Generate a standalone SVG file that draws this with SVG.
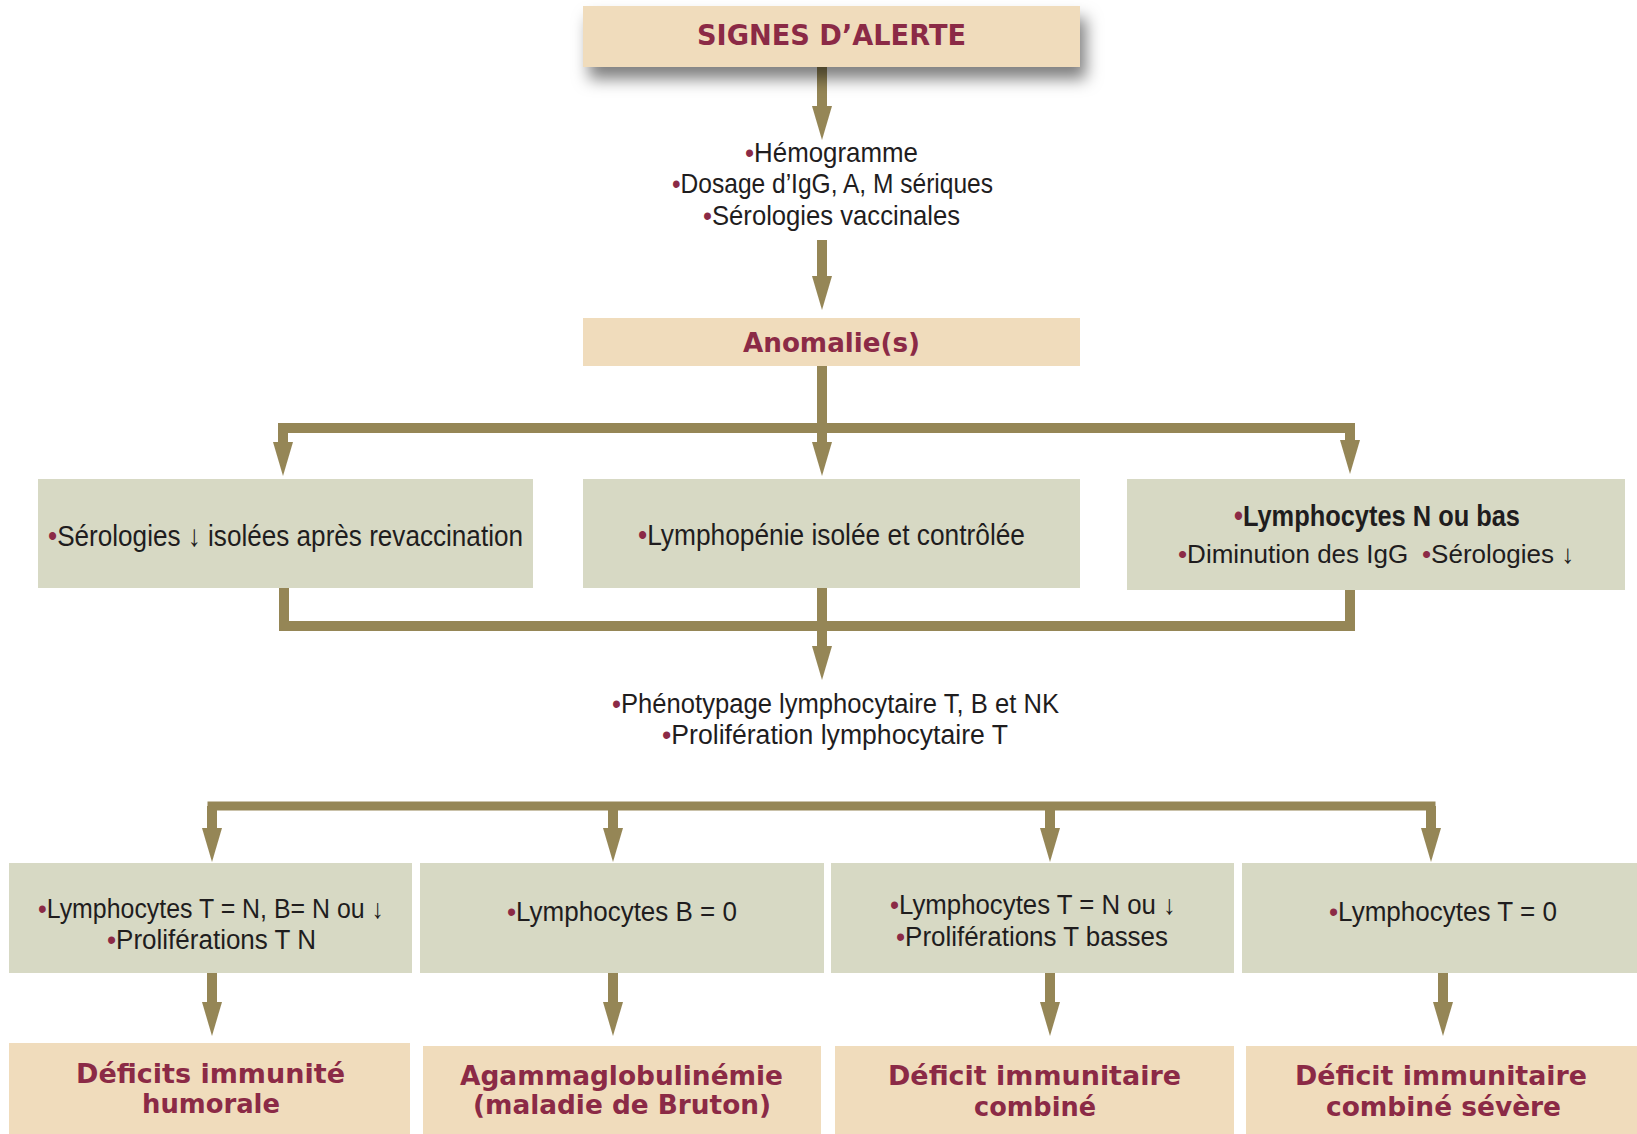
<svg xmlns="http://www.w3.org/2000/svg" width="1637" height="1134" viewBox="0 0 1637 1134">
<defs>
<style>
.beige{fill:#f0dcbc}
.green{fill:#d7d9c4}
.t{font-family:"Liberation Sans Narrow","Liberation Sans",Arial,sans-serif;fill:#1f1d1e}
.tb{font-family:"Liberation Sans Narrow","Liberation Sans",Arial,sans-serif;fill:#1f1d1e;font-weight:bold}
.h{font-family:"DejaVu Sans","Liberation Sans",sans-serif;font-weight:bold;fill:#8b2a46}
.b{fill:#8b2a46}
.c{fill:none;stroke:#958656;stroke-width:10}
.ca{fill:none;stroke:#958656;stroke-width:10;marker-end:url(#ah)}
.bar{fill:none;stroke:#958656;stroke-width:10;stroke-linecap:square;stroke-linejoin:miter}
</style>
<marker id="ah" markerUnits="userSpaceOnUse" viewBox="0 0 34 20" markerWidth="34" markerHeight="20" refX="2" refY="10" orient="auto">
<path d="M0,0 L34,10 L0,20 z" fill="#958656"/>
</marker>
<filter id="sh" x="-10%" y="-30%" width="125%" height="200%">
<feDropShadow dx="6" dy="12" stdDeviation="8" flood-color="#000" flood-opacity="0.5"/>
</filter>
</defs>

<g id="connectors">
<path class="ca" d="M822,67 V108"/>
<path class="ca" d="M822,240 V278"/>
<path class="c" d="M822,366 V430"/>
<path class="bar" d="M283,428 H1350"/>
<path class="ca" d="M822,428 V444"/>
<path class="ca" d="M283,428 V444"/>
<path class="ca" d="M1350,428 V442"/>
<path class="bar" d="M284,588 V626 H1350 V591"/>
<path class="ca" d="M822,587 V648"/>
<path class="bar" style="stroke-width:9" d="M212,806 H1431"/>
<path class="ca" d="M212,806 V830"/>
<path class="ca" d="M613,806 V830"/>
<path class="ca" d="M1050,806 V830"/>
<path class="ca" d="M1431,806 V830"/>
<path class="ca" d="M212,973 V1004"/>
<path class="ca" d="M613,973 V1004"/>
<path class="ca" d="M1050,973 V1004"/>
<path class="ca" d="M1443,973 V1004"/>
</g>

<g id="signes">
<rect class="beige" x="583" y="6" width="497" height="61" filter="url(#sh)"/>
<text class="h" x="697" y="45" font-size="29" textLength="269" lengthAdjust="spacingAndGlyphs">SIGNES D’ALERTE</text>
</g>

<g id="examens">
<text class="t" x="745" y="162" font-size="28" textLength="173" lengthAdjust="spacingAndGlyphs"><tspan class="b">•</tspan>Hémogramme</text>
<text class="t" x="672" y="193" font-size="28" textLength="321" lengthAdjust="spacingAndGlyphs"><tspan class="b">•</tspan>Dosage d’IgG, A, M sériques</text>
<text class="t" x="703" y="225" font-size="28" textLength="257" lengthAdjust="spacingAndGlyphs"><tspan class="b">•</tspan>Sérologies vaccinales</text>
</g>

<g id="anomalies">
<rect class="beige" x="583" y="318" width="497" height="48"/>
<text class="h" x="743" y="352" font-size="26" textLength="177" lengthAdjust="spacingAndGlyphs">Anomalie(s)</text>
</g>

<g id="serologies">
<rect class="green" x="38" y="479" width="495" height="109"/>
<text class="t" x="48" y="546" font-size="30" textLength="475" lengthAdjust="spacingAndGlyphs"><tspan class="b">•</tspan>Sérologies ↓ isolées après revaccination</text>
</g>

<g id="lymphopenie">
<rect class="green" x="583" y="479" width="497" height="109"/>
<text class="t" x="638" y="545" font-size="30" textLength="387" lengthAdjust="spacingAndGlyphs"><tspan class="b">•</tspan>Lymphopénie isolée et contrôlée</text>
</g>

<g id="lymphocytes-bas">
<rect class="green" x="1127" y="479" width="498" height="111"/>
<text class="tb" x="1234" y="526" font-size="29" textLength="286" lengthAdjust="spacingAndGlyphs"><tspan class="b">•</tspan>Lymphocytes N ou bas</text>
<text class="t" x="1178" y="563" font-size="26"><tspan class="b">•</tspan>Diminution des IgG</text>
<text class="t" x="1422" y="563" font-size="26"><tspan class="b">•</tspan>Sérologies ↓</text>
</g>

<g id="phenotypage">
<text class="t" x="612" y="713" font-size="27" textLength="447" lengthAdjust="spacingAndGlyphs"><tspan class="b">•</tspan>Phénotypage lymphocytaire T, B et NK</text>
<text class="t" x="662" y="744" font-size="27" textLength="346" lengthAdjust="spacingAndGlyphs"><tspan class="b">•</tspan>Prolifération lymphocytaire T</text>
</g>

<g id="box-tn">
<rect class="green" x="9" y="863" width="403" height="110"/>
<text class="t" x="38" y="918" font-size="27" textLength="346" lengthAdjust="spacingAndGlyphs"><tspan class="b">•</tspan>Lymphocytes T = N, B= N ou ↓</text>
<text class="t" x="107" y="949" font-size="27" textLength="209" lengthAdjust="spacingAndGlyphs"><tspan class="b">•</tspan>Proliférations T N</text>
</g>

<g id="box-b0">
<rect class="green" x="420" y="863" width="404" height="110"/>
<text class="t" x="507" y="921" font-size="27" textLength="230" lengthAdjust="spacingAndGlyphs"><tspan class="b">•</tspan>Lymphocytes B = 0</text>
</g>

<g id="box-tbas">
<rect class="green" x="831" y="863" width="403" height="110"/>
<text class="t" x="890" y="914" font-size="27" textLength="286" lengthAdjust="spacingAndGlyphs"><tspan class="b">•</tspan>Lymphocytes T = N ou ↓</text>
<text class="t" x="896" y="946" font-size="27" textLength="272" lengthAdjust="spacingAndGlyphs"><tspan class="b">•</tspan>Proliférations T basses</text>
</g>

<g id="box-t0">
<rect class="green" x="1242" y="863" width="395" height="110"/>
<text class="t" x="1329" y="921" font-size="27" textLength="228" lengthAdjust="spacingAndGlyphs"><tspan class="b">•</tspan>Lymphocytes T = 0</text>
</g>

<g id="res-humorale">
<rect class="beige" x="9" y="1043" width="401" height="91"/>
<text class="h" x="76" y="1083" font-size="26" textLength="269" lengthAdjust="spacingAndGlyphs">Déficits immunité</text>
<text class="h" x="142" y="1113" font-size="26" textLength="138" lengthAdjust="spacingAndGlyphs">humorale</text>
</g>

<g id="res-bruton">
<rect class="beige" x="423" y="1046" width="398" height="88"/>
<text class="h" x="460" y="1085" font-size="26" textLength="323" lengthAdjust="spacingAndGlyphs">Agammaglobulinémie</text>
<text class="h" x="473" y="1114" font-size="26" textLength="298" lengthAdjust="spacingAndGlyphs">(maladie de Bruton)</text>
</g>

<g id="res-combine">
<rect class="beige" x="835" y="1046" width="399" height="88"/>
<text class="h" x="888" y="1085" font-size="26" textLength="293" lengthAdjust="spacingAndGlyphs">Déficit immunitaire</text>
<text class="h" x="974" y="1116" font-size="26" textLength="122" lengthAdjust="spacingAndGlyphs">combiné</text>
</g>

<g id="res-severe">
<rect class="beige" x="1246" y="1046" width="391" height="88"/>
<text class="h" x="1295" y="1085" font-size="26" textLength="292" lengthAdjust="spacingAndGlyphs">Déficit immunitaire</text>
<text class="h" x="1326" y="1116" font-size="26" textLength="235" lengthAdjust="spacingAndGlyphs">combiné sévère</text>
</g>
</svg>
